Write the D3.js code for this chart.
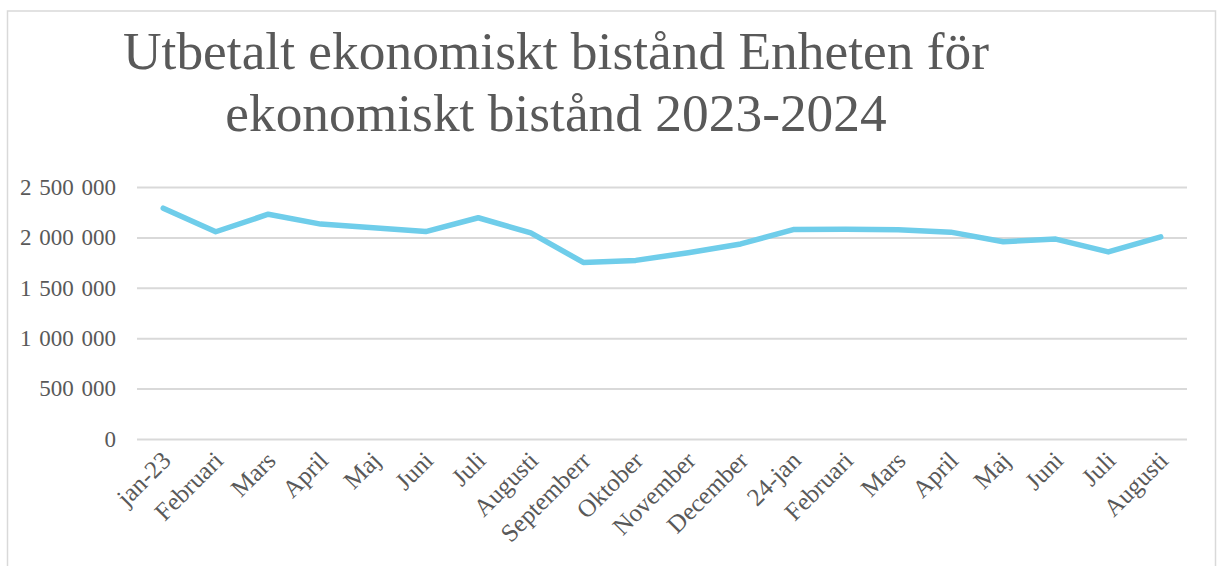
<!DOCTYPE html>
<html>
<head>
<meta charset="utf-8">
<script src="https://cdn.jsdelivr.net/npm/d3@7"></script>
<style>
  html,body{margin:0;padding:0;background:#fff;}
  svg{display:block;}
  text{font-family:"Liberation Serif","Times New Roman",serif;fill:#595959;}
</style>
</head>
<body>
<svg id="chart" width="1217" height="566"></svg>
<script>
// ---- data ----
const titleLines = ['Utbetalt ekonomiskt bistånd Enheten för', 'ekonomiskt bistånd 2023-2024'];
const months = ['jan-23','Februari','Mars','April','Maj','Juni','Juli','Augusti','Septemberr','Oktober','November','December',
                '24-jan','Februari','Mars','April','Maj','Juni','Juli','Augusti'];
const paid = [2290000,2056000,2230000,2132000,2096000,2058000,2195000,2045000,1752000,1772000,1848000,1935000,
              2078000,2082000,2075000,2052000,1957000,1983000,1856000,2005000];
const yTicks = [0,500000,1000000,1500000,2000000,2500000];

const svg = d3.select('#chart');
const M = {l:137, r:1187, t:187, b:439};
const SERIF = '"Liberation Serif","Times New Roman",serif';

// frame
svg.append('rect').attr('x',7.5).attr('y',11).attr('width',1208).attr('height',600)
  .attr('fill','none').attr('stroke','#d9d9d9').attr('stroke-width',1.5);

// title
const title = svg.append('text').attr('text-anchor','middle').attr('font-size',53.4);
titleLines.forEach((t,i)=> title.append('tspan').attr('x',556).attr('y',69+i*62).text(t));

// scales (index domain so repeated month names stay separate)
const x = d3.scaleBand().domain(d3.range(months.length)).range([M.l,M.r]);
const y = d3.scaleLinear().domain([0,2500000]).range([M.b,M.t]);
const fmt = v => d3.format(',')(v).replace(/,/g,' ');

// grid + y labels
const ya = svg.append('g').attr('transform',`translate(${M.l},0)`)
  .call(d3.axisLeft(y).tickValues(yTicks).tickSize(-(M.r-M.l)).tickFormat(fmt).tickPadding(21));
ya.select('.domain').remove();
ya.selectAll('.tick line').attr('stroke','#d9d9d9').attr('stroke-width',2);
ya.selectAll('.tick text').attr('font-size',23).attr('fill','#595959')
  .style('font-family',SERIF).style('word-spacing','2px');

// x labels
const xa = svg.append('g').attr('transform',`translate(0,${M.b})`)
  .call(d3.axisBottom(x).tickFormat(i=>months[i]).tickSize(0));
xa.select('.domain').remove();
xa.selectAll('.tick text')
  .attr('font-size',25).attr('fill','#595959')
  .style('font-family',SERIF)
  .attr('text-anchor','end').attr('dy',0).attr('y',0)
  .attr('transform','translate(9,23) rotate(-45)');

// line
const line = d3.line().x((d,i)=>x(i)+x.bandwidth()/2).y(d=>y(d));
svg.append('path').datum(paid).attr('d',line)
  .attr('fill','none').attr('stroke','#6fcdea').attr('stroke-width',5.5)
  .attr('stroke-linecap','round').attr('stroke-linejoin','round');
</script>
</body>
</html>
